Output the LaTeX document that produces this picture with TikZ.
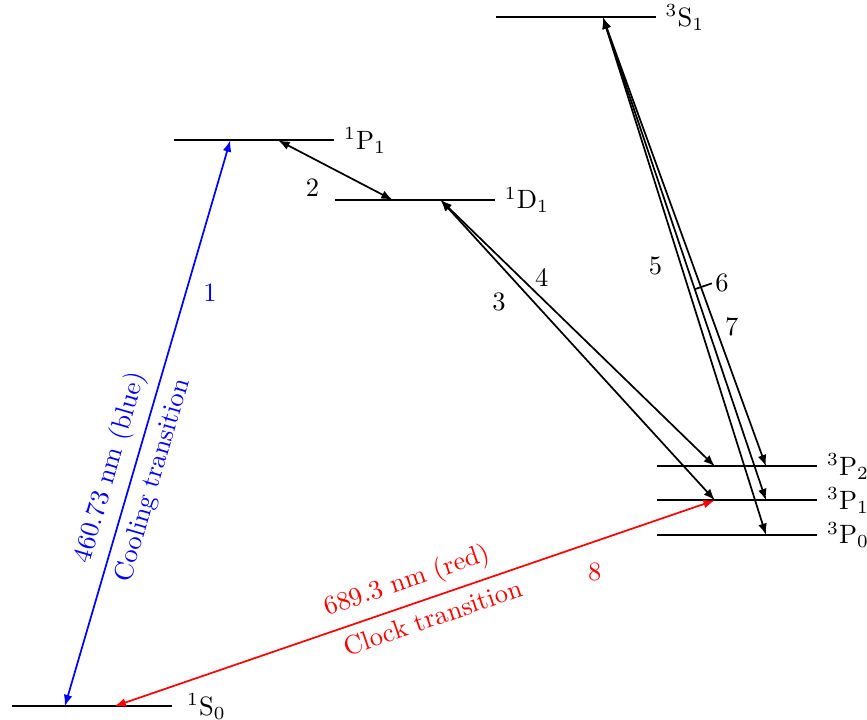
\documentclass[tikz,border=0pt]{standalone}
\usetikzlibrary{arrows.meta, positioning}

\begin{document}
\begin{tikzpicture}[
  lvl/.style={thick},
  tr/.style={{Latex[length=4.3pt, width=3.3pt]}-{Latex[length=4.3pt, width=3.3pt]}, line width=0.65pt},
  term/.style={right}
]
\useasboundingbox (0,0) rectangle (11.49,9.53);
% levels
\draw[lvl] (0.16,0.17) -- ++(2.12,0) coordinate[pos=0.33] (s0a) coordinate[pos=0.64] (s0b)
  node[term, xshift=2pt] (S0) {$^1\mathrm{S}_0$};
\draw[lvl] (2.31,7.67) -- ++(2.12,0) coordinate[pos=0.35] (p1a) coordinate[pos=0.65] (p1b)
  node[term] (P1) {$^1\mathrm{P}_1$};
\draw[lvl] (4.44,6.88) -- ++(2.12,0) coordinate[pos=0.36] (d1a) coordinate[pos=0.66] (d1b)
  node[term] (D1) {$^1\mathrm{D}_1$};
\draw[lvl] (6.57,9.30) -- ++(2.12,0) coordinate[pos=0.67] (s1b)
  node[term] (S1) {$^3\mathrm{S}_1$};
\draw[lvl] (8.71,3.35) -- ++(2.12,0) coordinate[pos=0.36] (p32a) coordinate[pos=0.68] (p32b)
  node[term] (P32) {$^3\mathrm{P}_2$};
\draw[lvl] (8.71,2.90) -- ++(2.12,0) coordinate[pos=0.36] (p31a) coordinate[pos=0.68] (p31b)
  node[term] (P31) {$^3\mathrm{P}_1$};
\draw[lvl] (8.71,2.44) -- ++(2.12,0) coordinate[pos=0.68] (p30b)
  node[term] (P30) {$^3\mathrm{P}_0$};
% transitions
\draw[tr, blue] (s0a) -- (p1a)
  node[pos=0.41, sloped, above] (cool1) {460.73 nm (blue)}
  node[pos=0.41, sloped, below] (cool2) {Cooling transition}
  node[pos=0.73, right=3pt] (n1) {1};
\draw[tr] (p1b) -- (d1a) node[pos=0.3, below=4pt] (n2) {2};
\draw[tr] (d1b) -- (p31a) node[pos=0.34, left=7pt] (n3) {3};
\draw[tr] (d1b) -- (p32a) node[pos=0.29, right=2pt] (n4) {4};
\draw[tr] (s1b) -- (p30b) node[pos=0.48, left=3.5pt] (n5) {5};
\draw[tr] (s1b) -- (p31b) coordinate[pos=0.563] (t6);
\draw[line width=0.65pt] (t6) -- ++(19:0.24) node[right, inner sep=1pt] (n6) {6};
\draw[tr] (s1b) -- (p32b) node[pos=0.69, right=0pt] (n7) {7};
\draw[tr, red] (s0b) -- (p31a)
  node[midway, sloped, above] (clock1) {689.3 nm (red)}
  node[pos=0.52, sloped, below] (clock2) {Clock transition}
  node[pos=0.8, below=4.5pt] (n8) {8};
\end{tikzpicture}
\end{document}
